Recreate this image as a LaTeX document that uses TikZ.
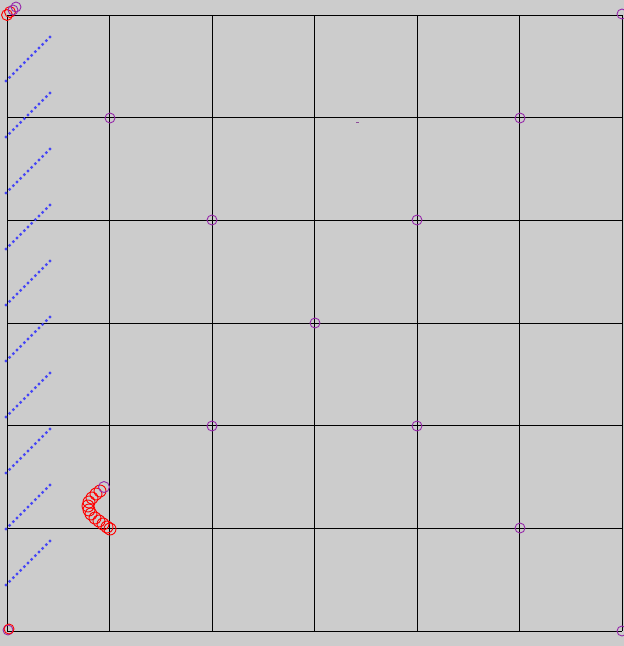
\documentclass[tikz,border=0pt]{standalone}
\definecolor{bg}{RGB}{204,204,204}
\definecolor{pur}{RGB}{150,40,170}
\definecolor{bdot}{RGB}{70,70,245}
\begin{document}
\begin{tikzpicture}[x=1pt,y=-1pt,
  gridline/.style={black,line width=0.8pt},
  pcirc/.style={draw=pur,line width=0.9pt},
  rcirc/.style={draw=red,line width=0.9pt},
  bluedot/.style={fill=bdot}]
\fill[bg] (0,0) rectangle (624,646);
\useasboundingbox (0,0) rectangle (624,646);
% grid
\foreach \i in {0,...,6} {
  \draw[gridline] ({7+102.5*\i},15) -- ({7+102.5*\i},631);
  \draw[gridline] (7,{15+102.67*\i}) -- (622,{15+102.67*\i});
}
% blue dotted diagonals
\foreach \k in {0,...,9} {
  \foreach \t in {0,...,12} {
    \fill[bluedot] ({6+44*\t/12},{81+56*\k-44*\t/12}) circle (1.6);
  }
}
% purple circles at grid points
\foreach \p in {(110,118),(520,118),(212,220),(417,220),(315,323),(212,426),(417,426),(520,528),(622,14),(622,631),(8,630)} {
  \draw[pcirc] \p circle (5);
}
% red chain
\foreach \p in {(100,491),(96,494),(92,498),(89,502),(88,506),(89,510),(91,514),(95,518),(99,521),(103,524),(107,527),(110,529)} {
  \draw[rcirc] \p circle (6);
}
\draw[pcirc] (104,487) circle (5.5);
% top-left cluster
\draw[rcirc] (7,15) circle (5.5);
\draw[rcirc] (10,12) circle (5.5);
\draw[pcirc] (13,10) circle (5);
\draw[pcirc] (16,7) circle (5);
% bottom-left red
\draw[rcirc] (9,629) circle (5);
% tiny dot
\fill[pur!60!gray] (356,121.5) rectangle (358.5,123);
\end{tikzpicture}
\end{document}
